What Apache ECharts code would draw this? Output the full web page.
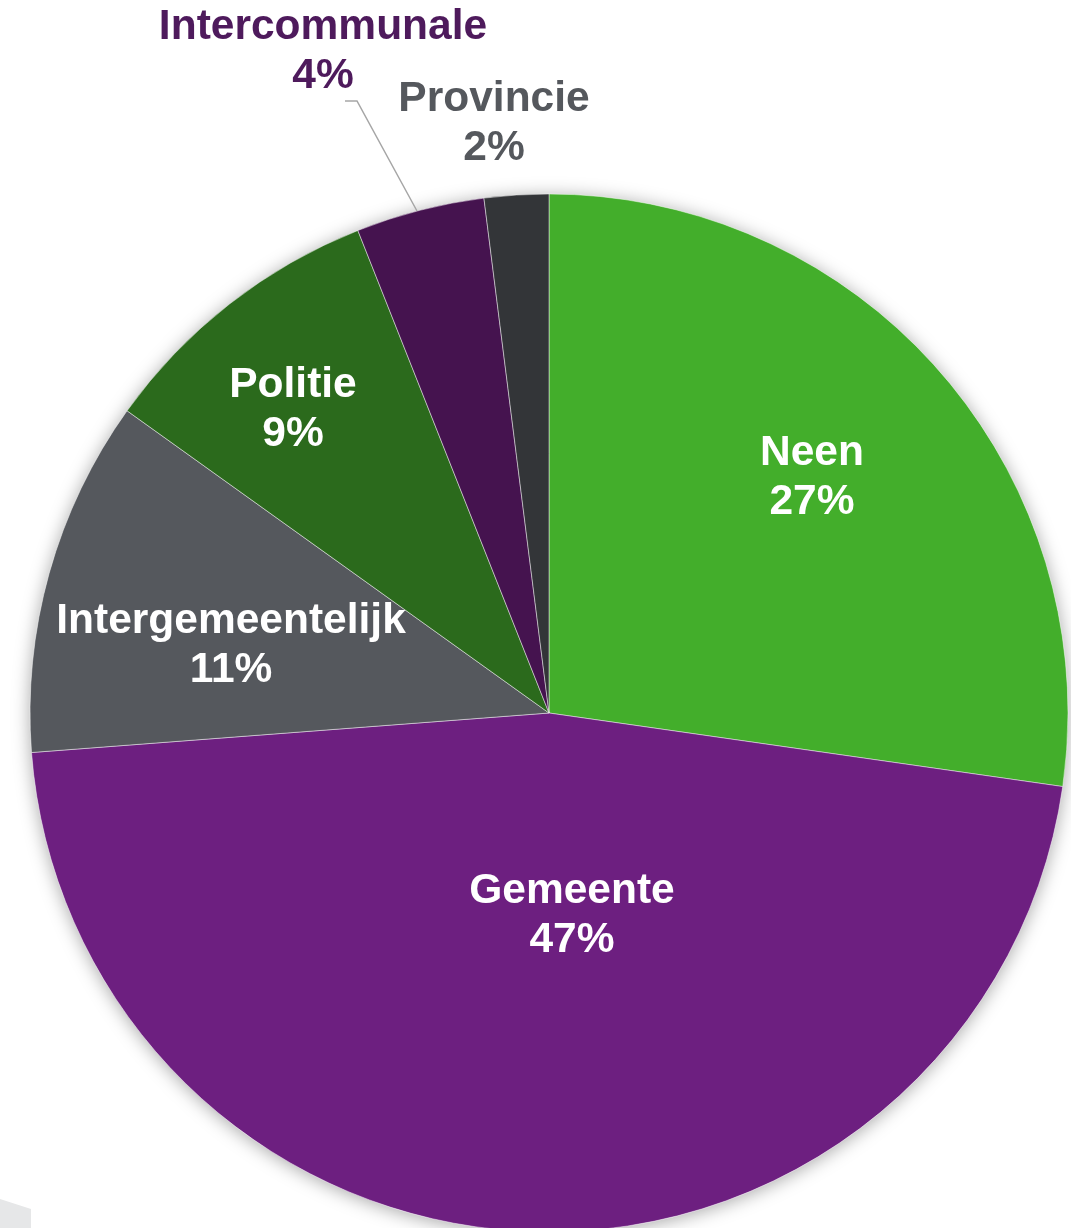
<!DOCTYPE html>
<html>
<head>
<meta charset="utf-8">
<script src="https://cdn.jsdelivr.net/npm/echarts@6/dist/echarts.min.js"></script>
<style>
html,body{margin:0;padding:0;background:#fff;}
#chart{width:1071px;height:1228px;}
</style>
</head>
<body>
<div id="chart"></div>
<script>
// ---- data ----
var categories = ['Neen', 'Gemeente', 'Intergemeentelijk', 'Politie', 'Intercommunale', 'Provincie'];
var values = [27.25, 46.5, 11.1, 9.1, 4.0, 2.0];

// ---- styles ----
var sliceColors = ['#43ae2b', '#6d1f80', '#55585d', '#2b6a1c', '#45134f', '#333538'];
var labelColors = ['#ffffff', '#ffffff', '#ffffff', '#ffffff', '#4e1a5c', '#55585d'];
// label anchor positions (layout, not data)
var labelAnchors = [[812, 478], [572, 916], [231, 646], [293, 410], [323, 52], [494, 124]];

var total = values.reduce(function (a, b) { return a + b; }, 0);

var chart = echarts.init(document.getElementById('chart'), null, { renderer: 'canvas' });

var data = categories.map(function (c, i) {
  return {
    name: c,
    value: values[i],
    itemStyle: { color: sliceColors[i] },
    label: { color: labelColors[i] }
  };
});

chart.setOption({
  backgroundColor: '#ffffff',
  animation: false,
  graphic: [{
    type: 'polygon',
    shape: { points: [[0, 1199], [31, 1209], [31, 1228], [0, 1228]] },
    style: { fill: '#e6e7e8' },
    z: 0
  }, {
    type: 'polyline',
    shape: { points: [[345, 101], [357, 101], [417, 211]] },
    style: { stroke: '#a6a6a6', lineWidth: 1.5, fill: null },
    z: 10
  }],
  series: [
    {
      type: 'pie',
      silent: true,
      center: [549, 713],
      radius: 519,
      z: 1,
      label: { show: false },
      labelLine: { show: false },
      itemStyle: {
        color: '#ffffff',
        shadowBlur: 18,
        shadowColor: 'rgba(0,0,0,0.35)',
        shadowOffsetX: 0,
        shadowOffsetY: 2
      },
      data: [{ value: 1, name: '' }]
    },
    {
      type: 'pie',
      center: [549, 713],
      radius: 519,
      startAngle: 90,
      clockwise: true,
      z: 2,
      itemStyle: { borderColor: 'rgba(255,255,255,0.45)', borderWidth: 1 },
      label: {
        show: true,
        position: 'inside',
        fontFamily: 'Liberation Sans, Arial, sans-serif',
        fontWeight: 'bold',
        fontSize: 42.5,
        lineHeight: 49,
        align: 'center',
        formatter: function (p) {
          return p.name + '\n' + Math.round(p.value / total * 100) + '%';
        }
      },
      labelLine: { show: false },
      labelLayout: function (p) {
        var a = labelAnchors[p.dataIndex];
        return { x: a[0], y: a[1], align: 'center', verticalAlign: 'middle' };
      },
      data: data
    }
  ]
});
</script>
</body>
</html>
